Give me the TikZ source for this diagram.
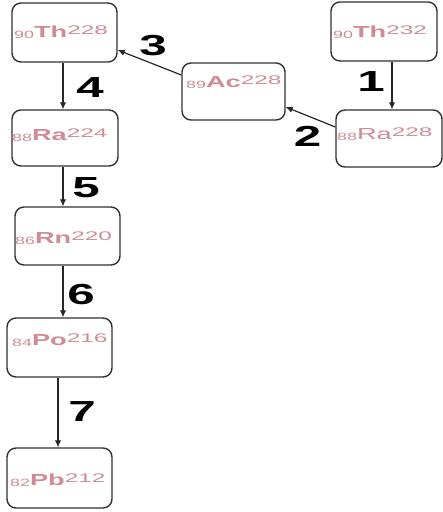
\documentclass[tikz,border=0pt]{standalone}
\usepackage{fontspec}
\setmainfont{Liberation Sans}
\usetikzlibrary{arrows.meta}

\definecolor{nucpink}{RGB}{205,140,150}
\definecolor{boxline}{RGB}{50,50,50}

% nuclide symbol: #1 weight, #2 atomic number, #3 element, #4 mass number
\newcommand{\isotope}[4]{%
  \raisebox{-1pt}{\scalebox{1.7}[1]{\fontsize{10.5}{11}\selectfont #2}}%
  \scalebox{1.7}[1]{\fontsize{16}{17}\selectfont #1#3}%
  \raisebox{3pt}{\scalebox{1.95}[1]{\fontsize{12.5}{13}\selectfont #4}}}
\newcommand{\steplabel}[1]{\scalebox{1.7}[1]{\fontsize{29}{29}\selectfont\bfseries #1}}

\tikzset{
  nucbox/.style={draw=boxline, line width=1.4pt, rounded corners=9pt,
    minimum width=105pt, minimum height=58pt, inner sep=0pt},
  nuctext/.style={anchor=base west, inner sep=0pt, text=nucpink},
  decay/.style={draw=black!85, line width=1.2pt, -{Latex[length=7pt,width=6.5pt]}},
  numlabel/.style={anchor=center, inner sep=0pt, text=black}
}

\begin{document}
\begin{tikzpicture}[x=1pt,y=1pt]
\path[use as bounding box, fill=white] (0,0) rectangle (443,-512);

% boxes
\node[nucbox, minimum width=105pt, minimum height=59pt] (th228) at (64.5,-32.5) {};
\node[nucbox, minimum width=106pt, minimum height=56pt] (ra224) at (65,-138) {};
\node[nucbox, minimum width=105pt, minimum height=58pt] (rn220) at (67.5,-236) {};
\node[nucbox, minimum width=105pt, minimum height=59pt] (po216) at (59.5,-347.5) {};
\node[nucbox, minimum width=105pt, minimum height=60pt] (pb212) at (59.5,-478) {};
\node[nucbox, minimum width=106pt, minimum height=59pt] (th232) at (384,-31.5) {};
\node[nucbox, minimum width=106pt, minimum height=57pt] (ra228) at (389,-138.5) {};
\node[nucbox, minimum width=103pt, minimum height=57pt] (ac228) at (233.5,-91.5) {};

% nuclide texts
\node[nuctext] (t-th228) at (14,-37) {\isotope{\bfseries}{90}{Th}{228}};
\node[nuctext] (t-ra224) at (12,-140) {\isotope{\bfseries}{88}{Ra}{224}};
\node[nuctext] (t-rn220) at (15,-243) {\isotope{\bfseries}{86}{Rn}{220}};
\node[nuctext] (t-po216) at (12,-345) {\isotope{\bfseries}{84}{Po}{216}};
\node[nuctext] (t-pb212) at (10,-485) {\isotope{\bfseries}{82}{Pb}{212}};
\node[nuctext] (t-th232) at (333,-37) {\isotope{\bfseries}{90}{Th}{232}};
\node[nuctext] (t-ra228) at (337,-139) {\isotope{\mdseries}{88}{Ra}{228}};
\node[nuctext] (t-ac228) at (186,-87) {\isotope{\bfseries}{89}{Ac}{228}};

% decay steps
\draw[decay] ([xshift=8pt]th232.south) -- ([xshift=3pt]ra228.north);
\draw[decay] ([yshift=11.5pt]ra228.west) -- ([yshift=-15.5pt]ac228.east);
\draw[decay] ([yshift=16.5pt]ac228.west) -- ([yshift=-17.5pt]th228.east);
\draw[decay] ([xshift=-1.5pt]th228.south) -- ([xshift=-2pt]ra224.north);
\draw[decay] ([xshift=-2pt]ra224.south) -- ([xshift=-4.5pt]rn220.north);
\draw[decay] ([xshift=-4.5pt]rn220.south) -- ([xshift=3.5pt]po216.north);
\draw[decay] ([xshift=-1.5pt]po216.south) -- ([xshift=-1.5pt]pb212.north);

% step numbers
\node[numlabel] (n1) at (371,-82) {\steplabel{1}};
\node[numlabel] (n2) at (307.5,-136.5) {\steplabel{2}};
\node[numlabel] (n3) at (153,-46) {\steplabel{3}};
\node[numlabel] (n4) at (90,-88) {\steplabel{4}};
\node[numlabel] (n5) at (86,-188) {\steplabel{5}};
\node[numlabel] (n6) at (81,-295) {\steplabel{6}};
\node[numlabel] (n7) at (82,-412) {\steplabel{7}};
\end{tikzpicture}
\end{document}
